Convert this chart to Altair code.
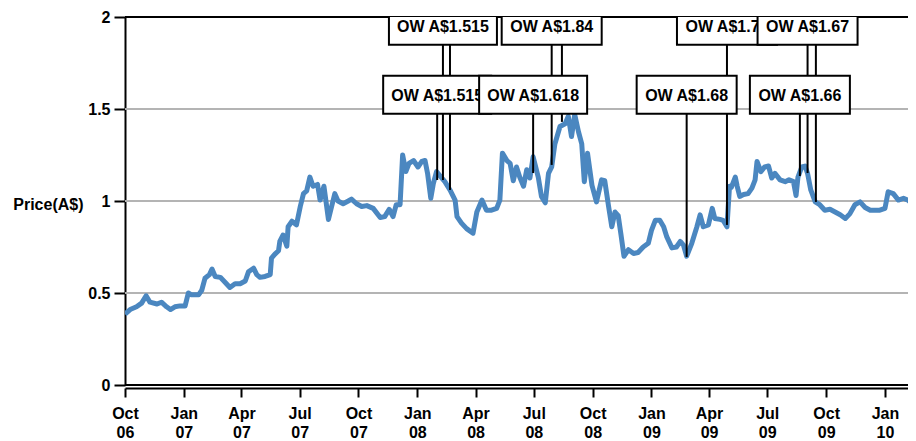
import altair as alt
import pandas as pd

FONT = "Liberation Sans"

# ---- price series (days after 2006-10-01, price in A$) ----
start = pd.Timestamp("2006-10-01")
days = [0, 8, 18, 26, 33, 39, 50, 57, 65, 71, 78, 86, 94, 99, 104, 115, 120, 125, 132, 136,
        141, 149, 156, 164, 172, 180, 188, 193, 201, 206, 211, 219, 227, 229, 234, 240, 242, 247,
        253, 255, 261, 268, 274, 279, 284, 289, 294, 301, 305, 311, 318, 323, 328, 333, 341, 349,
        354, 362, 370, 378, 388, 399, 406, 413, 419, 424, 430, 434, 439, 444, 451, 458, 464, 469,
        473, 478, 482, 487, 494, 500, 508, 516, 519, 526, 534, 544, 550, 558, 565, 573, 581, 586,
        590, 597, 602, 607, 612, 617, 623, 628, 633, 638, 646, 651, 657, 662, 667, 672, 680, 688,
        693, 698, 703, 709, 714, 718, 723, 730, 737, 745, 750, 756, 761, 766, 771, 775, 780, 787,
        795, 802, 810, 818, 823, 829, 836, 842, 847, 855, 862, 868, 873, 878, 886, 894, 899, 904,
        912, 918, 922, 930, 935, 941, 945, 948, 954, 957, 961, 967, 974, 980, 985, 988, 994, 1000,
        1006, 1011, 1016, 1024, 1032, 1038, 1045, 1049, 1052, 1058, 1063, 1067, 1072, 1079, 1086,
        1094, 1102, 1110, 1118, 1126, 1133, 1141, 1149, 1157, 1165, 1172, 1180, 1188, 1193, 1201,
        1209, 1217, 1224, 1232, 1240]
prices = [0.385, 0.41, 0.425, 0.445, 0.485, 0.45, 0.44, 0.45, 0.425, 0.41, 0.425, 0.43, 0.43,
          0.5, 0.49, 0.49, 0.515, 0.58, 0.6, 0.63, 0.59, 0.585, 0.56, 0.53, 0.55, 0.55, 0.565,
          0.615, 0.635, 0.6, 0.585, 0.59, 0.6, 0.69, 0.71, 0.73, 0.78, 0.815, 0.755, 0.86, 0.89,
          0.87, 0.97, 1.04, 1.055, 1.13, 1.08, 1.09, 1.005, 1.08, 0.9, 0.97, 1.04, 1.0, 0.985,
          1.0, 1.01, 0.985, 0.97, 0.975, 0.96, 0.91, 0.915, 0.955, 0.915, 0.98, 0.98, 1.25, 1.16,
          1.205, 1.22, 1.185, 1.215, 1.22, 1.15, 1.015, 1.095, 1.16, 1.13, 1.105, 1.06, 1.005,
          0.915, 0.88, 0.85, 0.825, 0.94, 1.005, 0.95, 0.95, 0.96, 1.005, 1.26, 1.22, 1.205,
          1.11, 1.185, 1.13, 1.08, 1.17, 1.125, 1.24, 1.13, 1.025, 0.99, 1.15, 1.185, 1.31,
          1.405, 1.42, 1.46, 1.35, 1.47, 1.375, 1.31, 1.105, 1.26, 1.085, 0.995, 1.115, 1.11,
          0.97, 0.86, 0.94, 0.92, 0.825, 0.70, 0.735, 0.715, 0.72, 0.75, 0.77, 0.84, 0.895,
          0.895, 0.86, 0.805, 0.745, 0.75, 0.78, 0.76, 0.70, 0.77, 0.86, 0.925, 0.86, 0.87, 0.96,
          0.905, 0.90, 0.895, 0.86, 1.08, 1.075, 1.13, 1.08, 1.025, 1.035, 1.04, 1.07, 1.115,
          1.215, 1.16, 1.185, 1.19, 1.125, 1.15, 1.115, 1.105, 1.115, 1.105, 1.03, 1.13, 1.185,
          1.19, 1.15, 1.06, 0.995, 0.98, 0.95, 0.955, 0.94, 0.925, 0.905, 0.93, 0.98, 0.995,
          0.965, 0.95, 0.95, 0.95, 0.96, 1.05, 1.04, 1.005, 1.015, 1.005, 0.98, 0.975]

# ---- broker annotations (level 3 boxes sit above the plot and are not visible) ----
ann_dates = ["2008-02-01", "2008-02-10", "2008-02-21", "2008-06-30", "2008-07-29", "2008-08-14",
             "2009-02-25", "2009-04-29", "2009-08-21", "2009-09-02", "2009-09-15"]
ann_prices = [1.114, 1.114, 1.06, 1.152, 1.196, 1.43, 0.696, 0.87, 1.136, 1.152, 0.995]
ann_labels = ["OW A$1.515", "OW A$1.515", "OW A$1.51", "OW A$1.618", "OW A$1.84", "OW A$1.84",
              "OW A$1.68", "OW A$1.72", "OW A$1.66", "OW A$1.67", "OW A$1.67"]
ann_level = [1, 2, 3, 1, 2, 3, 1, 2, 1, 2, 3]

# ---- axis ticks ----
tick_months = ["2006-10", "2007-01", "2007-04", "2007-07", "2007-10", "2008-01", "2008-04",
               "2008-07", "2008-10", "2009-01", "2009-04", "2009-07", "2009-10", "2010-01"]
y_ticks = [0, 0.5, 1, 1.5, 2]
grey_grid = [0.5, 1, 1.5]
black_grid = [0, 2]

price_df = pd.DataFrame({"date": start + pd.to_timedelta(days, unit="D"), "price": prices})

ann_df = pd.DataFrame({
    "date": pd.to_datetime(ann_dates),
    "price": ann_prices,
    "label": ann_labels,
    "level": ann_level,
})
ann_df["box_y"] = 1.578 + 0.375 * (ann_df["level"] - 1)

x_scale = alt.Scale(domain=[alt.DateTime(year=2006, month=10, date=1),
                            alt.DateTime(year=2010, month=2, date=6)])
y_scale = alt.Scale(domain=[0, 2], nice=False, zero=True)

tick_values = [alt.DateTime(year=int(t[:4]), month=int(t[5:]), date=1) for t in tick_months]

x_axis = alt.Axis(values=tick_values,
                  labelExpr="[timeFormat(datum.value, '%b'), timeFormat(datum.value, '%y')]",
                  labelFont=FONT, labelFontSize=16, labelFontWeight="bold", labelColor="black",
                  labelAngle=0, labelPadding=8, labelLineHeight=19, labelOverlap=False,
                  labelFlush=False,
                  domainColor="black", domainWidth=2, tickColor="black", tickWidth=2,
                  tickSize=9, offset=3, grid=False, title=None)
y_axis = alt.Axis(values=y_ticks, format="~g",
                  labelFont=FONT, labelFontSize=16, labelFontWeight="bold", labelColor="black",
                  labelPadding=4, domainColor="black", domainWidth=2, tickColor="black",
                  tickWidth=2, tickSize=11, grid=False,
                  title="Price(A$)", titleAngle=0, titleAlign="right", titleBaseline="middle",
                  titleX=-42, titleY=187, titleFont=FONT, titleFontSize=16,
                  titleFontWeight="bold", titleColor="black")


def X(field="date"):
    return alt.X(f"{field}:T", scale=x_scale, axis=x_axis, title=None)


def Y(field="price"):
    return alt.Y(f"{field}:Q", scale=y_scale, axis=y_axis, title="Price(A$)")


grey_rules = alt.Chart(pd.DataFrame({"price": grey_grid})).mark_rule(
    color="#b4b4b4", strokeWidth=2).encode(y=Y())
black_rules = alt.Chart(pd.DataFrame({"price": black_grid})).mark_rule(
    color="black", strokeWidth=2).encode(y=Y())

line = alt.Chart(price_df).mark_line(color="#4b87c0", strokeWidth=5, clip=True,
                                     strokeJoin="round").encode(x=X(), y=Y())

ann_rules = alt.Chart(ann_df).mark_rule(color="black", strokeWidth=2, clip=True).encode(
    x=X(), y=Y(), y2="box_y:Q")

layers = [grey_rules, black_rules, line, ann_rules]
for i in range(len(ann_df)):
    if ann_level[i] > 2:
        continue  # box lies entirely above the plot area
    row = pd.DataFrame({"date": [ann_df["date"][i]], "price": [ann_df["box_y"][i]],
                        "label": [ann_df["label"][i]]})
    w = 8 * len(ann_labels[i]) + 28
    box = alt.Chart(row).mark_rect(fill="white", stroke="black", strokeWidth=2,
                                   width=w, height=38, clip=True).encode(x=X(), y=Y())
    txt = alt.Chart(row).mark_text(font=FONT, fontSize=16, fontWeight="bold", color="black",
                                   clip=True, baseline="middle", align="center", dy=1).encode(
        x=X(), y=Y(), text="label:N")
    layers += [box, txt]

chart = alt.layer(*layers).properties(
    width=783, height=368,
    autosize=alt.AutoSizeParams(type="none"),
    padding={"left": 117, "top": 9, "right": 0, "bottom": 56},
).configure_view(stroke=None).configure(background="white")

chart.save("out.html", embed_options={"renderer": "svg", "actions": False})
